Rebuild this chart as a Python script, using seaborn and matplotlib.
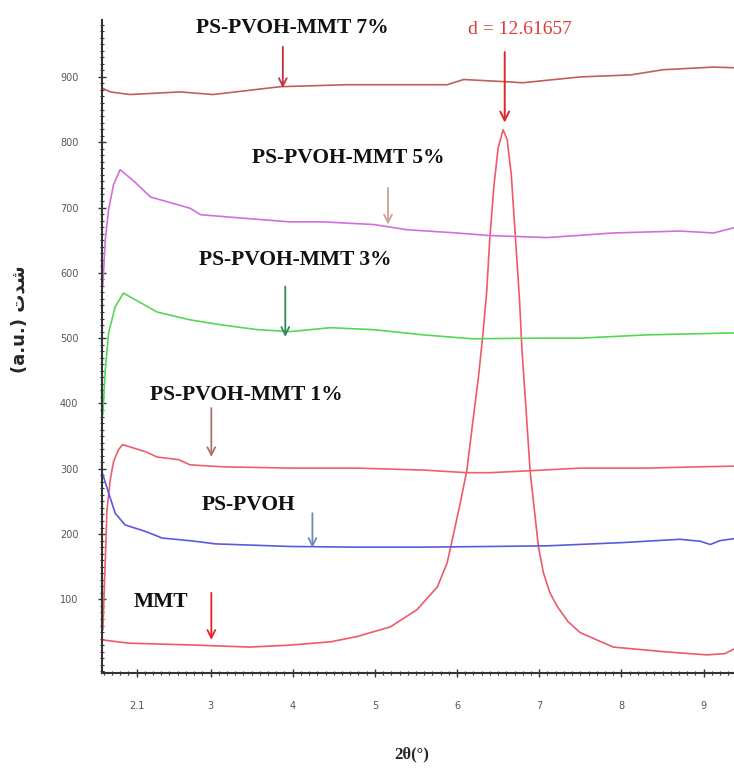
import matplotlib
matplotlib.use("Agg")
import matplotlib.pyplot as plt
import seaborn as sns
import pandas as pd
from matplotlib.ticker import MultipleLocator, FixedLocator

# ---------------- data ----------------
mmt_x = [1.68, 2.00, 2.81, 3.48, 3.97, 4.46, 4.78, 5.19, 5.51, 5.76, 5.88, 5.95, 6.04, 6.12,
         6.19, 6.26, 6.31, 6.36, 6.40, 6.45, 6.50, 6.56, 6.61, 6.66, 6.71, 6.76, 6.79, 6.84,
         6.89, 6.99, 7.05, 7.13, 7.22, 7.35, 7.50, 7.90, 8.51, 9.04, 9.26, 9.37]
mmt_y = [38, 33, 30, 27, 30, 35, 43, 58, 84, 119, 156, 196, 248, 298,
         370, 440, 500, 570, 655, 735, 791, 819, 804, 750, 655, 559, 482, 390,
         295, 181, 141, 110, 89, 66, 49, 27, 20, 15, 17, 24]

p1_x = [1.69, 1.72, 1.74, 1.78, 1.82, 1.88, 1.93, 2.21, 2.35, 2.61, 2.75, 3.15, 3.97, 4.78,
        5.59, 6.12, 6.40, 6.89, 7.50, 8.31, 8.96, 9.37]
p1_y = [53, 161, 237, 283, 311, 329, 337, 326, 318, 314, 306, 303, 301, 301,
        298, 294, 294, 297, 301, 301, 303, 304]

pv_x = [1.68, 1.76, 1.84, 1.96, 2.21, 2.41, 2.81, 3.06, 3.97, 4.78, 5.59, 6.40, 7.10, 8.02,
        8.71, 8.96, 9.08, 9.20, 9.37]
pv_y = [295, 263, 232, 214, 204, 194, 189, 185, 181, 180, 180, 181, 182, 187,
        192, 189, 184, 190, 193]

p3_x = [1.69, 1.72, 1.76, 1.84, 1.94, 2.35, 2.75, 3.15, 3.57, 3.97, 4.46, 4.98, 5.59, 6.19,
        7.01, 7.50, 8.31, 9.37]
p3_y = [383, 452, 508, 548, 569, 540, 528, 520, 513, 510, 516, 513, 505, 499,
        500, 500, 505, 508]

p5_x = [1.69, 1.72, 1.76, 1.82, 1.90, 2.08, 2.27, 2.75, 2.88, 3.36, 3.97, 4.37, 4.98, 5.39,
        6.00, 6.40, 7.10, 7.90, 8.71, 9.12, 9.37]
p5_y = [582, 651, 697, 735, 758, 739, 716, 699, 689, 684, 678, 678, 674, 666,
        661, 657, 654, 661, 664, 661, 669]

p7_x = [1.68, 1.78, 2.02, 2.63, 3.03, 3.85, 4.66, 5.88, 6.08, 6.68, 6.80, 7.50, 8.11, 8.51,
        9.12, 9.37]
p7_y = [883, 877, 873, 877, 873, 885, 888, 888, 896, 892, 891, 900, 903, 911,
        915, 914]

x_ticks = [2.1, 3, 4, 5, 6, 7, 8, 9]
x_tick_labels = ["2.1", "3", "4", "5", "6", "7", "8", "9"]
y_ticks = [100, 200, 300, 400, 500, 600, 700, 800, 900]

# annotations: label, text pos, arrow x, arrow from-y, arrow to-y
labels = ["PS-PVOH-MMT 7%", "PS-PVOH-MMT 5%", "PS-PVOH-MMT 3%",
          "PS-PVOH-MMT 1%", "PS-PVOH", "MMT"]
label_x = [4.00, 4.68, 4.03, 3.44, 3.46, 2.40]
label_y = [975, 776, 620, 413, 245, 96]
arrow_x = [3.88, 5.16, 3.91, 3.01, 4.24, 3.01]
arrow_y0 = [946, 730, 579, 393, 232, 110]
arrow_y1 = [883, 674, 502, 318, 179, 38]
arrow_colors = ["#c0303c", "#d0a090", "#2e8b57", "#b07070", "#6a8cb0", "#e8202a"]

peak_text = "d = 12.61657"
peak_text_xy = (6.76, 972)
peak_arrow = (6.58, 938, 830)

# ---------------- plotting ----------------
sns.set_theme(style="white")
plt.rcParams["font.family"] = ["DejaVu Sans"]

fig = plt.figure(figsize=(7.34, 7.72), dpi=100)
ax = fig.add_axes([0.139, 0.128, 0.861, 0.846])

series = [
    (mmt_x, mmt_y, "#ef5a6a"),
    (p1_x, p1_y, "#ea6070"),
    (pv_x, pv_y, "#5a5ae0"),
    (p3_x, p3_y, "#55d855"),
    (p5_x, p5_y, "#d46ee0"),
    (p7_x, p7_y, "#c0605c"),
]
for xs, ys, c in series:
    df = pd.DataFrame({"x": xs, "y": ys})
    sns.lineplot(data=df, x="x", y="y", color=c, lw=1.2, ax=ax,
                 estimator=None, sort=False)

ax.set_xlim(1.68, 9.37)
ax.set_ylim(-13, 987)

for s in ["top", "right"]:
    ax.spines[s].set_visible(False)
for s in ["left", "bottom"]:
    ax.spines[s].set_color("#333333")
    ax.spines[s].set_linewidth(1.5)

ax.xaxis.set_major_locator(FixedLocator(x_ticks))
ax.set_xticklabels(x_tick_labels)
ax.xaxis.set_minor_locator(MultipleLocator(0.1))
ax.yaxis.set_major_locator(FixedLocator(y_ticks))
ax.yaxis.set_minor_locator(MultipleLocator(10))
ax.tick_params(axis="both", which="major", direction="inout", length=6, width=1,
               color="#333333", labelsize=7, labelcolor="#555555")
ax.tick_params(axis="both", which="minor", direction="inout", length=3, width=0.8,
               color="#333333")
ax.tick_params(axis="x", which="major", pad=17, bottom=True)
ax.tick_params(axis="y", which="major", pad=14, left=True)
ax.tick_params(axis="x", which="minor", bottom=True)
ax.tick_params(axis="y", which="minor", left=True)

ax.set_xlabel("2θ(°)", fontsize=12, fontweight="bold",
              family=["Liberation Serif", "DejaVu Serif"])
ax.xaxis.set_label_coords(0.49, -0.112)
ax.set_ylabel("(a.u.) \uFE95\uFEAA\uFEB7", fontsize=13, fontweight="bold",
              family=["DejaVu Sans"])
ax.yaxis.set_label_coords(-0.116, 0.542)

for lab, tx, ty, axx, y0, y1, c in zip(labels, label_x, label_y, arrow_x,
                                        arrow_y0, arrow_y1, arrow_colors):
    ax.text(tx, ty, lab, ha="center", va="center", fontsize=15.5,
            fontweight="bold", family="Liberation Serif", color="#111111",
            clip_on=False)
    ax.annotate("", xy=(axx, y1), xytext=(axx, y0),
                arrowprops=dict(arrowstyle="->", color=c, lw=1.3,
                                mutation_scale=14, shrinkA=0, shrinkB=0))

ax.text(peak_text_xy[0], peak_text_xy[1], peak_text, ha="center", va="center",
        fontsize=14, family="Liberation Serif", color="#e03a3a", clip_on=False)
ax.annotate("", xy=(peak_arrow[0], peak_arrow[2]), xytext=(peak_arrow[0], peak_arrow[1]),
            arrowprops=dict(arrowstyle="->", color="#d82a2a", lw=1.4,
                            mutation_scale=16, shrinkA=0, shrinkB=0))

fig.savefig("out.png", dpi=100)
